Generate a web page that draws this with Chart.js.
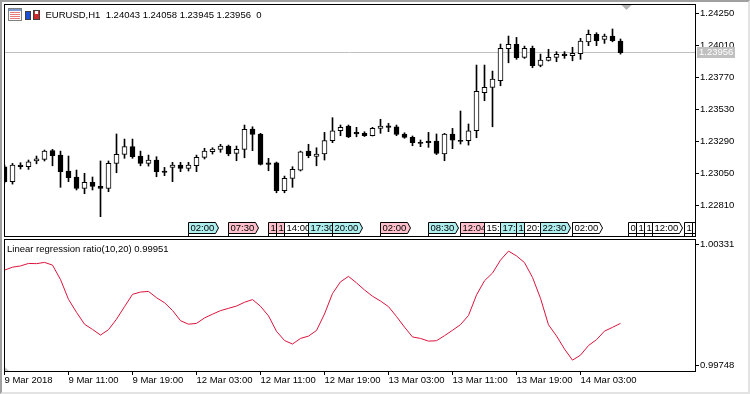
<!DOCTYPE html>
<html>
<head>
<meta charset="utf-8">
<script src="https://cdn.jsdelivr.net/npm/chart.js@4.4.1/dist/chart.umd.min.js"></script>
<style>
  html, body { margin: 0; padding: 0; background: #fff; }
  #wrap { position: relative; width: 750px; height: 394px; overflow: hidden; background: #fff; }
  #wrap canvas { position: absolute; left: 0; }
  #main { top: 0; }
  #sub { top: 236px; }
  #edge { position: absolute; left: 0; top: 0; width: 750px; height: 394px; box-sizing: border-box;
          border-top: 2px solid #a0a0a0; border-left: 2px solid #a0a0a0;
          border-right: 2px solid #e3e3e3; border-bottom: 2px solid #e3e3e3; pointer-events: none; }
</style>
</head>
<body>
<div id="wrap">
  <canvas id="main" width="750" height="237"></canvas>
  <canvas id="sub" width="750" height="158"></canvas>
  <div id="edge"></div>
</div>
<script>
var symbol = "EURUSD,H1";
var indicatorName = "Linear regression ratio(10,20)";

// hourly bars, 9 Mar 2018 03:00 .. 14 Mar 2018 08:00
var opens = [1.23102, 1.22990, 1.23115, 1.23102, 1.23145, 1.23157, 1.23222, 1.23189, 1.23070, 1.23025,
             1.22940, 1.22985, 1.22955, 1.22940, 1.23127, 1.23195, 1.23252, 1.23182, 1.23127, 1.23152,
             1.23070, 1.23097, 1.23115, 1.23090, 1.23109, 1.23172, 1.23214, 1.23232, 1.23257, 1.23202,
             1.23232, 1.23384, 1.23347, 1.23132, 1.23132, 1.22922, 1.23015, 1.23077, 1.23219, 1.23180,
             1.23197, 1.23297, 1.23371, 1.23407, 1.23359, 1.23352, 1.23334, 1.23389, 1.23409, 1.23401,
             1.23347, 1.23322, 1.23285, 1.23294, 1.23294, 1.23197, 1.23347, 1.23300, 1.23297, 1.23371,
             1.23656, 1.23696, 1.23746, 1.23985, 1.24018, 1.23921, 1.23988, 1.23861, 1.23898, 1.23921,
             1.23945, 1.23933, 1.23948, 1.24037, 1.24093, 1.24055, 1.24080, 1.24043];
var highs = [1.23115, 1.23127, 1.23132, 1.23152, 1.23182, 1.23227, 1.23232, 1.23219, 1.23182, 1.23077,
             1.23053, 1.23025, 1.23145, 1.23145, 1.23347, 1.23309, 1.23309, 1.23219, 1.23189, 1.23177,
             1.23097, 1.23135, 1.23135, 1.23135, 1.23189, 1.23240, 1.23244, 1.23270, 1.23264, 1.23257,
             1.23414, 1.23401, 1.23352, 1.23165, 1.23137, 1.23032, 1.23102, 1.23219, 1.23270, 1.23244,
             1.23359, 1.23469, 1.23414, 1.23414, 1.23397, 1.23364, 1.23397, 1.23457, 1.23427, 1.23414,
             1.23356, 1.23332, 1.23302, 1.23359, 1.23347, 1.23352, 1.23389, 1.23519, 1.23422, 1.23863,
             1.23863, 1.23818, 1.24020, 1.24080, 1.24070, 1.24005, 1.24005, 1.23945, 1.23981, 1.23963,
             1.23963, 1.23996, 1.24063, 1.24125, 1.24105, 1.24095, 1.24133, 1.24058];
var lows = [1.22980, 1.22972, 1.23085, 1.23082, 1.23124, 1.23145, 1.23109, 1.22948, 1.22990, 1.22928,
            1.22900, 1.22928, 1.22728, 1.22915, 1.23057, 1.23165, 1.23165, 1.23109, 1.23107, 1.23027,
            1.23035, 1.22990, 1.23065, 1.23070, 1.23065, 1.23160, 1.23197, 1.23210, 1.23184, 1.23147,
            1.23169, 1.23222, 1.23115, 1.23072, 1.22907, 1.22907, 1.22948, 1.23070, 1.23169, 1.23109,
            1.23152, 1.23282, 1.23334, 1.23320, 1.23326, 1.23328, 1.23332, 1.23352, 1.23364, 1.23334,
            1.23315, 1.23259, 1.23252, 1.23247, 1.23193, 1.23147, 1.23237, 1.23272, 1.23264, 1.23319,
            1.23596, 1.23401, 1.23708, 1.23880, 1.23906, 1.23913, 1.23843, 1.23850, 1.23893, 1.23888,
            1.23913, 1.23895, 1.23906, 1.24008, 1.24008, 1.24025, 1.24037, 1.23945];
var closes = [1.22990, 1.23115, 1.23103, 1.23139, 1.23162, 1.23219, 1.23184, 1.23065, 1.23020, 1.22940,
              1.22985, 1.22955, 1.22940, 1.23127, 1.23195, 1.23252, 1.23177, 1.23127, 1.23152, 1.23065,
              1.23060, 1.23115, 1.23090, 1.23115, 1.23172, 1.23219, 1.23234, 1.23257, 1.23197, 1.23232,
              1.23382, 1.23344, 1.23120, 1.23120, 1.22922, 1.23015, 1.23082, 1.23214, 1.23184, 1.23197,
              1.23297, 1.23371, 1.23397, 1.23326, 1.23347, 1.23334, 1.23389, 1.23407, 1.23397, 1.23344,
              1.23322, 1.23282, 1.23277, 1.23282, 1.23202, 1.23347, 1.23300, 1.23292, 1.23371, 1.23666,
              1.23696, 1.23758, 1.23988, 1.24018, 1.23918, 1.23988, 1.23858, 1.23900, 1.23921, 1.23943,
              1.23933, 1.23951, 1.24043, 1.24093, 1.24045, 1.24080, 1.24045, 1.23956];
var ratio = [1.00206, 1.00220, 1.00226, 1.00238, 1.00237, 1.00243, 1.00230, 1.00161, 1.00066, 1.00004,
             0.99947, 0.99922, 0.99895, 0.99921, 0.99971, 1.00031, 1.00090, 1.00101, 1.00104, 1.00074,
             1.00050, 1.00013, 0.99964, 0.99947, 0.99951, 0.99977, 0.99995, 1.00012, 1.00023, 1.00034,
             1.00052, 1.00065, 1.00033, 0.99987, 0.99913, 0.99869, 0.99852, 0.99879, 0.99890, 0.99917,
             0.99996, 1.00094, 1.00150, 1.00176, 1.00145, 1.00111, 1.00081, 1.00058, 1.00031, 0.99984,
             0.99933, 0.99886, 0.99879, 0.99866, 0.99868, 0.99892, 0.99918, 0.99945, 0.99989, 1.00087,
             1.00155, 1.00192, 1.00254, 1.00297, 1.00274, 1.00242, 1.00171, 1.00071, 0.99944, 0.99891,
             0.99828, 0.99775, 0.99799, 0.99845, 0.99873, 0.99914, 0.99932, 0.99951];

var timeLabels = ["9 Mar 2018", "9 Mar 11:00", "9 Mar 19:00", "12 Mar 03:00", "12 Mar 11:00",
                  "12 Mar 19:00", "13 Mar 03:00", "13 Mar 11:00", "13 Mar 19:00", "14 Mar 03:00"];
var barsPerLabel = 8;
var priceTicks = [1.24250, 1.24010, 1.23770, 1.23530, 1.23290, 1.23050, 1.22810];
var ratioTicks = [1.00331, 0.99748];

// calendar events: bar index, time text, kind (w = none, c = low, p = high)
var eventBars = [23, 28, 33, 34, 35, 38, 41, 47, 53, 57, 60, 62, 64, 65, 67, 71, 78, 79, 80, 81, 85, 86];
var eventTimes = ["02:00", "07:30", "12:30", "13:00", "14:00", "17:30", "20:00", "02:00", "08:30", "12:04", "15:00",
                  "17:30", "19:00", "20:00", "22:30", "02:00", "09:00", "10:00", "11:00", "12:00", "15:00", "16:00"];
var eventKinds = ["c", "p", "p", "p", "w", "c", "c", "p", "c", "p", "w",
                  "c", "c", "w", "c", "w", "w", "w", "w", "w", "w", "w"];
var kindColors = { w: "#ffffff", c: "#afeeee", p: "#ffc0cb" };

var FONT = { family: '"Liberation Sans", Arial, sans-serif', size: 9.5 };
var FONT_CSS = '9.5px "Liberation Sans", Arial, sans-serif';

Chart.defaults.color = "#000";

function xScale(show) {
    return {
        type: "linear", min: -0.0625, max: 86.3125, display: show, offset: false,
        afterBuildTicks: function (s) {
            s.ticks = timeLabels.map(function (t, k) { return { value: k * barsPerLabel }; });
        },
        afterFit: function (s) { s.height = show ? 23 : 0; s.paddingLeft = 0; s.paddingRight = 0; },
        grid: { offset: false, drawOnChartArea: false, drawTicks: true, tickLength: 4, color: "#000" },
        border: { display: false },
        ticks: {
            align: "start", padding: 0, maxRotation: 0, autoSkip: false, color: "#000", font: FONT,
            callback: function (v, i) { return timeLabels[i]; }
        }
    };
}

function yScale(min, max, ticks) {
    return {
        position: "right", min: min, max: max,
        afterBuildTicks: function (s) {
            s.ticks = ticks.map(function (v) { return { value: v }; });
        },
        afterFit: function (s) { s.width = 55; s.paddingTop = 0; s.paddingBottom = 0; },
        grid: { drawOnChartArea: false, drawTicks: true, tickLength: 4, color: "#000" },
        border: { display: false },
        ticks: { padding: 1, color: "#000", font: FONT, callback: function (v) { return v.toFixed(5); } }
    };
}

var mainDecor = {
    id: "mainDecor",
    beforeDatasetsDraw: function (chart) {
        var ctx = chart.ctx, a = chart.chartArea;
        var y = Math.floor(chart.scales.y.getPixelForValue(closes[closes.length - 1])) + 0.5;
        ctx.save();
        ctx.strokeStyle = "#c0c0c0";
        ctx.lineWidth = 1;
        ctx.beginPath(); ctx.moveTo(a.left, y); ctx.lineTo(a.right, y); ctx.stroke();
        ctx.restore();
    },
    afterDraw: function (chart) {
        var ctx = chart.ctx, a = chart.chartArea, xs = chart.scales.x, ys = chart.scales.y;
        var last = closes.length - 1;

        // calendar tags
        ctx.save();
        ctx.beginPath(); ctx.rect(a.left, a.top, a.right - a.left, a.bottom - a.top); ctx.clip();
        ctx.font = FONT_CSS;
        ctx.textBaseline = "middle";
        ctx.lineWidth = 1;
        var top = a.bottom - 14.5, bot = a.bottom - 3.5, mid = (top + bot) / 2;
        eventBars.forEach(function (b, i) {
            var x = Math.floor(xs.getPixelForValue(b)) + 0.5;
            var w = Math.ceil(ctx.measureText(eventTimes[i]).width) + 3;
            ctx.beginPath();
            ctx.moveTo(x, top); ctx.lineTo(x + w, top); ctx.lineTo(x + w + 3, mid);
            ctx.lineTo(x + w, bot); ctx.lineTo(x, bot); ctx.closePath();
            ctx.fillStyle = kindColors[eventKinds[i]];
            ctx.fill();
            ctx.strokeStyle = "#000";
            ctx.stroke();
            ctx.fillStyle = "#000";
            ctx.fillText(eventTimes[i], x + 2, mid + 0.5);
            ctx.beginPath(); ctx.moveTo(x, bot); ctx.lineTo(x, a.bottom); ctx.stroke();
        });
        ctx.restore();

        ctx.save();
        // pane frame
        ctx.strokeStyle = "#000";
        ctx.lineWidth = 1;
        ctx.strokeRect(a.left + 0.5, a.top + 0.5, a.right - a.left, a.bottom - a.top - 1);

        // chart shift marker
        var cx = xs.getPixelForValue(last + 0.75);
        ctx.fillStyle = "#b4b4b4";
        ctx.beginPath(); ctx.moveTo(cx - 5, a.top + 1); ctx.lineTo(cx + 5, a.top + 1); ctx.lineTo(cx, a.top + 6);
        ctx.closePath(); ctx.fill();

        // bid price label
        var py = Math.floor(ys.getPixelForValue(closes[last]));
        ctx.fillStyle = "#c0c0c0";
        ctx.fillRect(a.right + 2, py - 5, 38, 11);
        ctx.fillStyle = "#fff";
        ctx.font = FONT_CSS;
        ctx.textBaseline = "middle";
        ctx.fillText(closes[last].toFixed(5), a.right + 4, py + 0.5);

        // header icons
        ctx.fillStyle = "#fff"; ctx.fillRect(8, 8, 14, 12);
        ctx.fillStyle = "#7d9bd1"; ctx.fillRect(9, 9, 12, 2);
        ctx.fillStyle = "#e87a7a";
        [12, 14, 16, 18].forEach(function (r) { ctx.fillRect(10, r, 10, 1); });
        ctx.strokeStyle = "#7f7f7f"; ctx.strokeRect(8.5, 8.5, 13, 12);
        ctx.fillStyle = "#1c4fd8"; ctx.fillRect(25, 11, 6, 9);
        ctx.fillStyle = "#cc2a2a"; ctx.fillRect(33, 10, 7, 10);
        ctx.fillStyle = "#fff"; ctx.fillRect(27, 9, 5, 2); ctx.fillRect(35, 11, 3, 3);
        ctx.strokeStyle = "#404040"; ctx.strokeRect(25.5, 11.5, 5, 8); ctx.strokeRect(33.5, 10.5, 6, 9);

        // header text
        ctx.fillStyle = "#000";
        ctx.textBaseline = "middle";
        var head = symbol + "  " + opens[last].toFixed(5) + " " + highs[last].toFixed(5) + " " +
                   lows[last].toFixed(5) + " " + closes[last].toFixed(5) + "  0";
        ctx.fillText(head, 45.5, 15);
        ctx.restore();
    }
};

var subDecor = {
    id: "subDecor",
    afterDraw: function (chart) {
        var ctx = chart.ctx, a = chart.chartArea;
        ctx.save();
        ctx.strokeStyle = "#000";
        ctx.lineWidth = 1;
        ctx.strokeRect(a.left + 0.5, a.top + 0.5, a.right - a.left, a.bottom - a.top);
        ctx.fillStyle = "#c8c8c8";
        ctx.beginPath(); ctx.moveTo(a.left + 1, a.bottom); ctx.lineTo(a.left + 1, a.bottom - 4);
        ctx.lineTo(a.left + 5, a.bottom); ctx.closePath(); ctx.fill();
        ctx.fillStyle = "#000";
        ctx.font = FONT_CSS;
        ctx.textBaseline = "middle";
        ctx.fillText(indicatorName + " " + ratio[ratio.length - 1].toFixed(5), a.left + 3, a.top + 10);
        ctx.restore();
    }
};

var bars = opens.map(function (o, i) { return i; });

new Chart(document.getElementById("main"), {
    type: "bar",
    data: {
        datasets: [
            {
                label: "wick",
                data: bars.map(function (i) { return { x: i, y: [lows[i], highs[i]] }; }),
                backgroundColor: "#000",
                barThickness: 1,
                grouped: false,
                order: 2
            },
            {
                label: "body",
                data: bars.map(function (i) { return { x: i, y: [opens[i], closes[i]] }; }),
                backgroundColor: bars.map(function (i) { return closes[i] >= opens[i] ? "#fff" : "#000"; }),
                borderColor: "#000",
                borderWidth: 1,
                borderSkipped: false,
                barThickness: 5,
                grouped: false,
                order: 1
            }
        ]
    },
    options: {
        responsive: false,
        animation: false,
        devicePixelRatio: 1,
        layout: { padding: { left: 4, top: 4, right: 0, bottom: 0 } },
        plugins: { legend: { display: false }, tooltip: { enabled: false } },
        scales: { x: xScale(false), y: yScale(1.22576, 1.24320, priceTicks) }
    },
    plugins: [mainDecor]
});

new Chart(document.getElementById("sub"), {
    type: "line",
    data: {
        datasets: [{
            label: indicatorName,
            data: ratio.map(function (v, i) { return { x: i, y: v }; }),
            borderColor: "#dc143c",
            borderWidth: 1,
            pointRadius: 0,
            tension: 0,
            fill: false
        }]
    },
    options: {
        responsive: false,
        animation: false,
        devicePixelRatio: 1,
        layout: { padding: { left: 4, top: 3, right: 0, bottom: 0 } },
        plugins: { legend: { display: false }, tooltip: { enabled: false } },
        scales: { x: xScale(true), y: yScale(0.99723, 1.00355, ratioTicks) }
    },
    plugins: [subDecor]
});
</script>
</body>
</html>
